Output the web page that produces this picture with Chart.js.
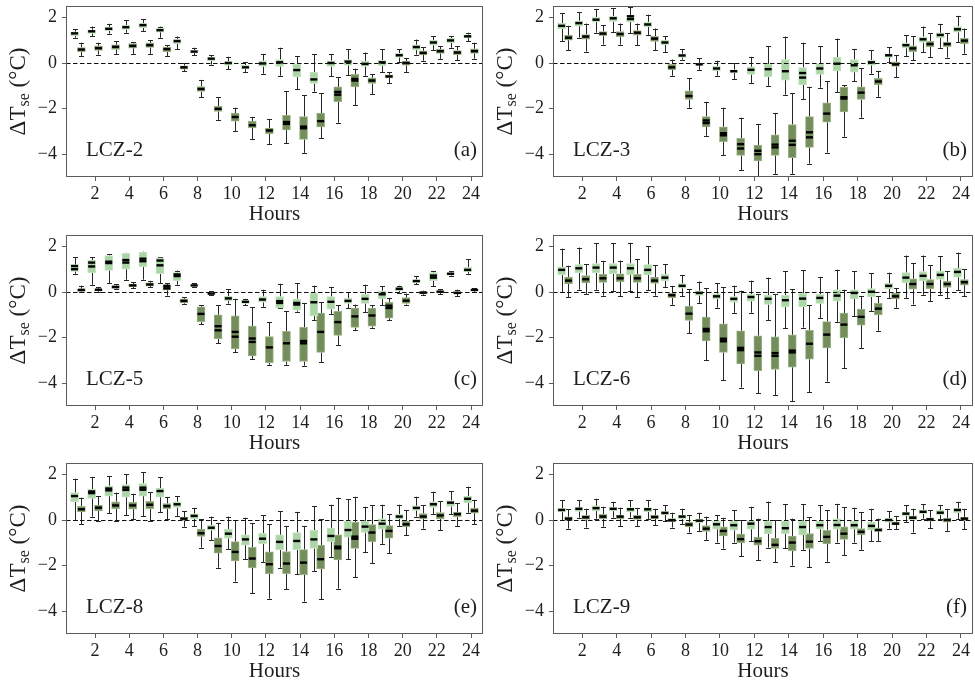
<!DOCTYPE html>
<html>
<head>
<meta charset="utf-8">
<title>Hourly ΔTse by LCZ</title>
<script src="https://cdn.jsdelivr.net/npm/chart.js@4.4.1/dist/chart.umd.min.js"></script>
<style>
  html, body { margin: 0; padding: 0; background: #ffffff; width: 975px; height: 683px; overflow: hidden; }
  .panel { position: absolute; }
  canvas { display: block; }
</style>
</head>
<body>
<div class="panel" style="left:0px;top:0px;"><canvas id="p0" width="490" height="228"></canvas></div>
<div class="panel" style="left:490px;top:0px;"><canvas id="p1" width="485" height="228"></canvas></div>
<div class="panel" style="left:0px;top:229px;"><canvas id="p2" width="490" height="228"></canvas></div>
<div class="panel" style="left:490px;top:229px;"><canvas id="p3" width="485" height="228"></canvas></div>
<div class="panel" style="left:0px;top:457px;"><canvas id="p4" width="490" height="228"></canvas></div>
<div class="panel" style="left:490px;top:457px;"><canvas id="p5" width="485" height="228"></canvas></div>
<script>
// Hours of the day and axis ticks
const hours = [1, 2, 3, 4, 5, 6, 7, 8, 9, 10, 11, 12, 13, 14, 15, 16, 17, 18, 19, 20, 21, 22, 23, 24];
const xTickValues = [2, 4, 6, 8, 10, 12, 14, 16, 18, 20, 22, 24];
const yTickValues = [-4, -2, 0, 2];

// One row per hour: [lower whisker, Q1, median, Q3, upper whisker, (mean)]
const lcz2Light = [
  [1.11, 1.2, 1.3, 1.37, 1.48], [1.17, 1.3, 1.39, 1.45, 1.6], [1.29, 1.42, 1.5, 1.57, 1.72],
  [1.33, 1.47, 1.57, 1.66, 1.87], [1.39, 1.55, 1.66, 1.75, 1.93], [1.11, 1.35, 1.44, 1.52, 1.6],
  [0.6, 0.85, 0.96, 1.05, 1.16], [0.33, 0.44, 0.5, 0.57, 0.67], [-0.07, 0.1, 0.19, 0.25, 0.34],
  [-0.27, -0.1, 0.0, 0.07, 0.27], [-0.4, -0.26, -0.19, -0.1, 0.03], [-0.47, -0.15, -0.02, 0.1, 0.4],
  [-0.56, -0.15, 0.03, 0.15, 0.67], [-1.15, -0.6, -0.31, -0.05, 0.3], [-1.26, -0.9, -0.72, -0.4, 0.4],
  [-0.59, -0.15, 0.0, 0.1, 0.4], [-0.53, -0.1, 0.06, 0.15, 0.6], [-0.56, -0.15, -0.04, 0.08, 0.46],
  [-0.4, -0.12, 0.03, 0.12, 0.6], [0.04, 0.25, 0.34, 0.42, 0.6], [0.37, 0.57, 0.7, 0.8, 1.03],
  [0.55, 0.78, 0.9, 1.0, 1.18], [0.67, 0.88, 0.99, 1.08, 1.18], [0.96, 1.1, 1.17, 1.24, 1.33]
];
const lcz2Dark = [
  [0.3, 0.5, 0.59, 0.68, 0.89], [0.37, 0.55, 0.65, 0.75, 0.89], [0.4, 0.6, 0.71, 0.8, 0.95],
  [0.4, 0.65, 0.75, 0.85, 0.92], [0.4, 0.68, 0.78, 0.88, 1.0], [0.3, 0.5, 0.61, 0.7, 0.77],
  [-0.37, -0.27, -0.19, -0.12, 0.0], [-1.51, -1.25, -1.14, -1.03, -0.74], [-2.49, -2.12, -2.01, -1.9, -1.51],
  [-3.0, -2.55, -2.37, -2.2, -1.96], [-3.33, -2.85, -2.73, -2.55, -2.37], [-3.56, -3.1, -2.96, -2.85, -2.47],
  [-3.53, -2.93, -2.67, -2.3, -1.23, -2.59], [-3.94, -3.35, -2.86, -2.35, -1.41, -2.79], [-3.29, -2.8, -2.55, -2.2, -1.33],
  [-2.62, -1.7, -1.39, -1.05, -0.62, -1.27], [-1.84, -1.05, -0.77, -0.5, -0.25, -0.7], [-1.38, -0.9, -0.77, -0.65, -0.5],
  [-0.89, -0.65, -0.59, -0.52, -0.41], [-0.41, -0.1, 0.0, 0.08, 0.22], [0.1, 0.35, 0.44, 0.53, 0.7],
  [0.18, 0.42, 0.52, 0.6, 0.73], [0.12, 0.36, 0.46, 0.55, 0.74], [0.19, 0.42, 0.52, 0.62, 0.89]
];
const lcz3Light = [
  [0.96, 1.5, 1.63, 1.75, 2.18], [1.11, 1.62, 1.75, 1.85, 2.22], [1.33, 1.8, 1.9, 2.0, 2.37],
  [1.36, 1.82, 1.96, 2.05, 2.41], [1.3, 1.8, 1.93, 2.1, 2.44, 2.05], [1.21, 1.58, 1.69, 1.8, 2.12],
  [0.47, 0.8, 0.9, 1.0, 1.18], [0.15, 0.25, 0.33, 0.4, 0.6], [-0.3, -0.1, -0.06, 0.0, 0.21],
  [-0.56, -0.35, -0.24, -0.15, 0.1], [-0.7, -0.42, -0.36, -0.3, 0.0], [-0.89, -0.5, -0.3, -0.17, 0.27],
  [-1.0, -0.6, -0.27, -0.05, 0.74], [-1.39, -0.75, -0.36, 0.15, 1.16], [-1.6, -0.95, -0.64, -0.2, 0.89, -0.44],
  [-1.08, -0.5, -0.24, 0.0, 0.74], [-1.27, -0.35, -0.03, 0.25, 1.07], [-0.79, -0.4, -0.1, 0.15, 0.62],
  [-0.47, -0.1, 0.03, 0.12, 0.55], [0.04, 0.25, 0.34, 0.4, 0.7], [0.3, 0.65, 0.78, 0.88, 1.21],
  [0.47, 0.9, 1.04, 1.15, 1.6], [0.67, 1.1, 1.23, 1.32, 1.72], [0.92, 1.35, 1.48, 1.6, 2.07]
];
const lcz3Dark = [
  [0.55, 1.0, 1.11, 1.22, 1.63], [0.5, 1.05, 1.16, 1.25, 1.73], [0.81, 1.2, 1.29, 1.38, 1.67],
  [0.81, 1.15, 1.27, 1.38, 1.73], [0.79, 1.22, 1.33, 1.42, 1.73], [0.56, 0.95, 1.07, 1.17, 1.51],
  [-0.56, -0.3, -0.19, -0.06, 0.15], [-1.96, -1.6, -1.45, -1.22, -0.67], [-3.19, -2.8, -2.63, -2.35, -1.7, -2.52],
  [-4.04, -3.45, -3.17, -2.8, -1.96, -3.08], [-4.71, -4.05, -3.75, -3.3, -2.4, -3.56], [-5.1, -4.3, -4.0, -3.6, -2.67, -3.85],
  [-4.86, -4.05, -3.7, -3.15, -2.19, -3.58], [-4.86, -4.15, -3.59, -2.7, -1.33, -3.41], [-4.41, -3.7, -3.26, -2.35, -1.04, -3.04],
  [-3.93, -2.6, -2.22, -1.75, -0.81], [-3.23, -2.15, -1.56, -1.07, -0.98, -1.5], [-2.4, -1.6, -1.3, -1.05, -0.22],
  [-1.48, -0.95, -0.81, -0.67, -0.34], [-0.62, -0.15, -0.06, 0.05, 0.33], [0.12, 0.5, 0.64, 0.75, 1.18],
  [0.25, 0.7, 0.83, 0.95, 1.3], [0.24, 0.72, 0.83, 0.92, 1.3], [0.41, 0.85, 0.98, 1.08, 1.51]
];
const lcz5Light = [
  [0.8, 0.9, 1.0, 1.2, 1.52, 1.14], [0.32, 0.85, 1.12, 1.4, 1.52, 1.29], [0.39, 0.95, 1.27, 1.6, 1.65, 1.33],
  [0.54, 1.0, 1.29, 1.7, 1.72, 1.4], [0.54, 1.1, 1.35, 1.75, 1.77, 1.46], [0.39, 0.8, 1.17, 1.5, 1.52, 1.38],
  [0.32, 0.5, 0.7, 0.85, 0.94, 0.77], [0.22, 0.24, 0.29, 0.33, 0.39], [-0.14, -0.12, -0.07, -0.03, 0.03],
  [-0.51, -0.38, -0.28, -0.18, 0.13], [-0.59, -0.5, -0.43, -0.36, -0.3], [-0.65, -0.45, -0.33, -0.2, 0.1],
  [-0.72, -0.7, -0.48, -0.2, 0.36, -0.4], [-0.86, -0.8, -0.55, -0.3, 0.39, -0.48], [-1.23, -1.05, -0.45, -0.05, 0.28],
  [-0.96, -0.75, -0.43, -0.2, 0.22], [-0.7, -0.5, -0.39, -0.28, 0.0], [-0.88, -0.5, -0.3, -0.1, 0.32],
  [-0.59, -0.3, -0.1, 0.05, 0.25], [-0.04, 0.05, 0.14, 0.2, 0.28], [0.35, 0.4, 0.48, 0.55, 0.68],
  [0.25, 0.5, 0.63, 0.85, 0.93, 0.72], [0.71, 0.74, 0.8, 0.85, 0.9], [0.8, 0.88, 0.97, 1.08, 1.43]
];
const lcz5Dark = [
  [-0.01, 0.03, 0.09, 0.14, 0.28], [0.01, 0.05, 0.1, 0.14, 0.2], [0.13, 0.16, 0.22, 0.28, 0.35],
  [0.17, 0.22, 0.29, 0.35, 0.42], [0.22, 0.26, 0.33, 0.4, 0.49], [-0.16, 0.08, 0.16, 0.3, 0.39, 0.27],
  [-0.51, -0.48, -0.39, -0.3, -0.22], [-1.42, -1.3, -0.96, -0.65, -0.58], [-2.25, -2.05, -1.68, -1.0, -0.59, -1.5],
  [-2.65, -2.5, -1.96, -1.05, -0.3, -1.75], [-2.94, -2.8, -2.19, -1.5, -0.67, -2.04], [-3.19, -3.1, -2.43, -1.95, -1.32],
  [-3.19, -3.05, -2.25, -1.72, -0.84], [-3.23, -3.05, -2.25, -1.55, -0.48, -2.15], [-3.09, -2.65, -1.75, -0.92, -0.45],
  [-2.32, -1.9, -1.32, -0.85, -0.59], [-1.67, -1.55, -1.07, -0.7, -0.55], [-1.57, -1.5, -1.03, -0.7, -0.59],
  [-1.23, -1.15, -0.7, -0.45, -0.26, -0.6], [-0.55, -0.5, -0.38, -0.25, -0.07], [-0.12, -0.08, -0.03, 0.02, 0.06],
  [-0.09, -0.04, 0.01, 0.06, 0.13], [-0.19, -0.08, -0.04, 0.02, 0.1], [0.01, 0.05, 0.09, 0.12, 0.16]
];
const lcz6Light = [
  [0.0, 0.75, 0.97, 1.1, 1.9], [0.1, 0.85, 1.04, 1.2, 1.95], [0.1, 0.85, 1.07, 1.25, 2.13],
  [0.03, 0.8, 1.07, 1.25, 2.13], [0.03, 0.75, 1.04, 1.25, 2.16], [0.07, 0.75, 0.97, 1.2, 2.01],
  [0.22, 0.5, 0.63, 0.78, 1.22], [-0.19, 0.17, 0.27, 0.37, 0.75], [-0.48, -0.15, -0.04, 0.05, 0.46],
  [-0.69, -0.3, -0.19, -0.08, 0.39], [-0.91, -0.45, -0.3, -0.2, 0.28], [-0.91, -0.4, -0.22, -0.1, 0.5],
  [-1.24, -0.55, -0.3, -0.15, 0.63], [-1.6, -0.65, -0.36, -0.15, 0.92], [-1.56, -0.65, -0.29, -0.05, 0.95],
  [-1.15, -0.5, -0.26, -0.1, 0.65], [-1.31, -0.4, -0.16, 0.1, 0.98], [-1.05, -0.3, -0.04, 0.1, 0.91],
  [-0.84, -0.2, 0.01, 0.15, 0.82], [-0.26, 0.15, 0.27, 0.38, 0.85], [-0.26, 0.4, 0.63, 0.85, 1.6],
  [-0.12, 0.5, 0.71, 0.9, 1.6], [-0.12, 0.55, 0.75, 0.92, 1.58], [0.07, 0.65, 0.88, 1.05, 1.73]
];
const lcz6Dark = [
  [-0.22, 0.35, 0.5, 0.65, 1.15], [-0.09, 0.4, 0.56, 0.72, 1.21], [-0.16, 0.42, 0.6, 0.77, 1.34],
  [-0.19, 0.45, 0.6, 0.8, 1.38], [-0.22, 0.42, 0.6, 0.78, 1.44], [-0.16, 0.38, 0.5, 0.65, 1.18],
  [-0.56, -0.25, -0.14, -0.05, 0.27], [-1.8, -1.25, -0.95, -0.63, 0.13], [-3.0, -2.15, -1.72, -1.1, 0.17, -1.62],
  [-3.86, -2.65, -2.16, -1.4, 0.2, -2.05], [-4.19, -3.15, -2.55, -1.7, 0.06, -2.45], [-4.43, -3.45, -2.8, -1.92, -0.09, -2.65],
  [-4.53, -3.4, -2.8, -1.97, -0.09, -2.68], [-4.79, -3.3, -2.65, -1.88, 0.13, -2.57], [-4.39, -2.95, -2.27, -1.68, -0.59],
  [-3.93, -2.45, -1.87, -1.3, -0.01], [-3.33, -2.0, -1.43, -0.92, 0.1], [-2.45, -1.45, -1.09, -0.75, -0.19],
  [-1.7, -1.0, -0.73, -0.5, -0.19], [-0.69, -0.3, -0.19, -0.05, 0.17], [-0.55, 0.12, 0.35, 0.58, 1.28],
  [-0.4, 0.15, 0.35, 0.55, 1.17], [-0.26, 0.2, 0.35, 0.48, 0.91], [-0.19, 0.3, 0.43, 0.55, 1.0]
];
const lcz8Light = [
  [0.0, 0.8, 1.05, 1.2, 1.81], [0.15, 0.95, 1.18, 1.35, 1.88, 1.25], [0.29, 1.05, 1.3, 1.5, 1.93, 1.38],
  [0.2, 1.0, 1.32, 1.55, 2.0, 1.42], [0.18, 1.05, 1.33, 1.6, 2.09, 1.42], [0.35, 1.0, 1.27, 1.4, 1.88],
  [0.18, 0.55, 0.69, 0.8, 1.05], [-0.26, 0.05, 0.18, 0.27, 0.53], [-0.89, -0.45, -0.34, -0.22, 0.15],
  [-1.28, -0.8, -0.6, -0.4, 0.15], [-1.72, -1.1, -0.85, -0.65, 0.1], [-1.84, -1.05, -0.82, -0.58, 0.2],
  [-2.09, -1.3, -0.96, -0.65, 0.39], [-2.38, -1.3, -0.92, -0.55, 0.36], [-2.23, -1.25, -0.85, -0.45, 0.61],
  [-1.62, -0.95, -0.7, -0.35, 0.67], [-1.72, -0.75, -0.44, -0.05, 0.9], [-1.4, -0.55, -0.29, -0.05, 0.58],
  [-1.04, -0.4, -0.16, 0.05, 0.67], [-0.26, 0.05, 0.15, 0.25, 0.67], [0.15, 0.42, 0.53, 0.62, 1.02],
  [0.25, 0.55, 0.69, 0.8, 1.24], [0.25, 0.6, 0.76, 0.85, 1.26], [0.32, 0.75, 0.93, 1.05, 1.46]
];
const lcz8Dark = [
  [-0.19, 0.35, 0.47, 0.6, 0.98], [-0.04, 0.4, 0.54, 0.65, 1.05], [-0.04, 0.5, 0.64, 0.8, 1.2],
  [0.03, 0.48, 0.64, 0.78, 1.15], [-0.04, 0.5, 0.67, 0.82, 1.23], [0.03, 0.5, 0.61, 0.72, 1.01],
  [-0.29, -0.02, 0.06, 0.12, 0.39], [-1.21, -0.72, -0.58, -0.4, 0.03], [-2.09, -1.45, -1.14, -0.78, -0.12],
  [-2.7, -1.8, -1.4, -0.95, 0.0], [-3.21, -2.1, -1.69, -1.2, -0.15], [-3.45, -2.35, -1.94, -1.4, -0.19],
  [-3.04, -2.35, -1.91, -1.38, -0.26], [-3.58, -2.4, -1.87, -1.3, -0.26], [-3.47, -2.15, -1.72, -1.1, 0.03],
  [-3.01, -1.75, -1.24, -0.65, 0.98, -1.17], [-2.5, -1.25, -0.82, -0.1, 1.02, -0.73], [-1.9, -0.95, -0.55, -0.2, 0.64],
  [-1.46, -0.8, -0.48, -0.25, 0.25], [-0.67, -0.3, -0.19, -0.05, 0.42], [-0.38, 0.05, 0.15, 0.28, 0.64],
  [-0.45, 0.05, 0.2, 0.33, 0.83], [-0.26, 0.15, 0.26, 0.35, 0.73], [-0.19, 0.3, 0.41, 0.52, 0.88]
];
const lcz9Light = [
  [0.0, 0.35, 0.44, 0.52, 0.86], [0.1, 0.38, 0.49, 0.57, 0.86], [0.06, 0.4, 0.52, 0.62, 0.93],
  [0.1, 0.4, 0.49, 0.57, 0.8], [0.1, 0.35, 0.47, 0.55, 0.86], [0.03, 0.35, 0.47, 0.55, 0.87],
  [-0.04, 0.22, 0.31, 0.38, 0.65], [-0.19, 0.05, 0.15, 0.22, 0.49], [-0.48, -0.12, -0.03, 0.05, 0.32],
  [-0.99, -0.4, -0.19, -0.05, 0.22], [-0.99, -0.45, -0.23, -0.05, 0.44], [-0.92, -0.4, -0.16, 0.0, 0.58],
  [-1.21, -0.6, -0.31, -0.05, 0.81], [-1.24, -0.6, -0.36, -0.05, 0.68], [-1.31, -0.65, -0.31, -0.05, 0.68],
  [-0.92, -0.4, -0.23, -0.05, 0.64], [-0.99, -0.4, -0.22, 0.05, 0.71], [-0.99, -0.4, -0.23, -0.05, 0.54],
  [-0.92, -0.45, -0.26, -0.1, 0.49], [-0.38, -0.1, 0.0, 0.08, 0.39], [-0.09, 0.18, 0.28, 0.35, 0.64],
  [0.06, 0.28, 0.36, 0.45, 0.68], [0.03, 0.22, 0.32, 0.42, 0.65], [0.03, 0.32, 0.44, 0.52, 0.8]
];
const lcz9Dark = [
  [-0.38, -0.03, 0.06, 0.14, 0.47], [-0.33, 0.02, 0.12, 0.2, 0.49], [-0.29, 0.05, 0.15, 0.25, 0.58],
  [-0.26, 0.05, 0.15, 0.22, 0.54], [-0.26, 0.02, 0.12, 0.2, 0.51], [-0.23, 0.05, 0.13, 0.22, 0.49],
  [-0.33, -0.08, -0.01, 0.06, 0.32], [-0.55, -0.3, -0.2, -0.1, 0.2], [-0.87, -0.5, -0.38, -0.25, 0.15],
  [-1.25, -0.7, -0.48, -0.3, 0.1], [-1.6, -1.0, -0.84, -0.62, 0.0], [-1.75, -1.1, -0.93, -0.75, 0.06],
  [-1.86, -1.25, -1.09, -0.8, 0.0], [-2.0, -1.35, -0.99, -0.7, 0.06], [-2.08, -1.25, -0.95, -0.6, 0.13],
  [-1.83, -1.05, -0.74, -0.45, 0.42], [-1.54, -0.85, -0.6, -0.3, 0.57], [-1.31, -0.65, -0.52, -0.38, 0.35],
  [-0.92, -0.5, -0.44, -0.35, 0.06], [-0.41, -0.22, -0.16, -0.08, 0.17], [-0.55, 0.0, 0.1, 0.18, 0.49],
  [-0.35, -0.05, 0.03, 0.1, 0.44], [-0.48, -0.1, 0.0, 0.08, 0.47], [-0.41, -0.03, 0.06, 0.12, 0.49]
];

const panelNames = ['LCZ-2', 'LCZ-3', 'LCZ-5', 'LCZ-6', 'LCZ-8', 'LCZ-9'];
const panelLetters = ['(a)', '(b)', '(c)', '(d)', '(e)', '(f)'];
const lightSeries = [lcz2Light, lcz3Light, lcz5Light, lcz6Light, lcz8Light, lcz9Light];
const darkSeries = [lcz2Dark, lcz3Dark, lcz5Dark, lcz6Dark, lcz8Dark, lcz9Dark];

const SERIF = '"Liberation Serif", "DejaVu Serif", serif';
const INK = '#1e1e1e';
const LIGHT_FILL = '#abd5a6';
const LIGHT_EDGE = '#c2e3bd';
const DARK_FILL = '#748d5c';
const DARK_EDGE = '#9ab384';

function minusLabel(v) {
  return v < 0 ? '\u2212' + Math.abs(v) : String(v);
}

// Whiskers behind the boxes, medians / reference line / frame / labels on top
const boxPlotExtras = {
  id: 'boxPlotExtras',
  beforeDatasetsDraw(chart) {
    const { ctx, chartArea: a, scales: { x, y } } = chart;
    ctx.save();
    ctx.beginPath();
    ctx.rect(a.left, a.top, a.right - a.left, a.bottom - a.top);
    ctx.clip();
    ctx.strokeStyle = '#262626';
    ctx.lineWidth = 1;
    chart.data.datasets.forEach((ds) => {
      ds.stats.forEach((s, i) => {
        const cx = Math.round(x.getPixelForValue(ds.data[i].x)) + 0.5;
        const lo = y.getPixelForValue(s[0]);
        const q1 = y.getPixelForValue(s[1]);
        const q3 = y.getPixelForValue(s[3]);
        const hi = y.getPixelForValue(s[4]);
        const half = 2.5;
        ctx.beginPath();
        ctx.moveTo(cx, q1); ctx.lineTo(cx, lo);
        ctx.moveTo(cx, q3); ctx.lineTo(cx, hi);
        ctx.moveTo(cx - half, Math.round(lo) + 0.5); ctx.lineTo(cx + half, Math.round(lo) + 0.5);
        ctx.moveTo(cx - half, Math.round(hi) + 0.5); ctx.lineTo(cx + half, Math.round(hi) + 0.5);
        ctx.stroke();
      });
    });
    ctx.restore();
  },
  afterDatasetsDraw(chart, args, opts) {
    const { ctx, chartArea: a, scales: { x, y } } = chart;
    ctx.save();
    ctx.beginPath();
    ctx.rect(a.left, a.top, a.right - a.left, a.bottom - a.top);
    ctx.clip();
    // medians (and means where they separate from the median)
    ctx.strokeStyle = '#000000';
    ctx.lineWidth = 2.4;
    chart.data.datasets.forEach((ds, di) => {
      const meta = chart.getDatasetMeta(di);
      ds.stats.forEach((s, i) => {
        const el = meta.data[i];
        const w = el.width / 2 - 0.5;
        const marks = s.length > 5 ? [s[2], s[5]] : [s[2]];
        marks.forEach((v) => {
          const py = y.getPixelForValue(v);
          ctx.beginPath();
          ctx.moveTo(el.x - w, py);
          ctx.lineTo(el.x + w, py);
          ctx.stroke();
        });
      });
    });
    // zero reference line
    const y0 = Math.round(y.getPixelForValue(0)) + 0.5;
    ctx.strokeStyle = '#111111';
    ctx.lineWidth = 1.2;
    ctx.setLineDash([4.5, 2.5]);
    ctx.beginPath();
    ctx.moveTo(a.left, y0);
    ctx.lineTo(a.right, y0);
    ctx.stroke();
    ctx.setLineDash([]);
    ctx.restore();

    // frame
    ctx.save();
    ctx.strokeStyle = '#5c5c5c';
    ctx.lineWidth = 1;
    ctx.strokeRect(Math.round(a.left) + 0.5, Math.round(a.top) + 0.5,
      Math.round(a.right - a.left) - 1, Math.round(a.bottom - a.top) - 1);

    // panel labels
    ctx.fillStyle = INK;
    ctx.font = '21px ' + SERIF;
    ctx.textBaseline = 'middle';
    ctx.textAlign = 'left';
    ctx.fillText(opts.name, a.left + 20, a.bottom - 27);
    ctx.textAlign = 'right';
    ctx.fillText(opts.letter, a.right - 6, a.bottom - 27);
    ctx.restore();
  },
  afterDraw(chart, args, opts) {
    // y-axis title with subscript
    const { ctx, chartArea: a } = chart;
    const big = '23px ' + SERIF;
    const small = '16px ' + SERIF;
    ctx.save();
    ctx.font = big;
    const w1 = ctx.measureText('\u0394T').width;
    const w3 = ctx.measureText(' (\u00B0C)').width;
    ctx.font = small;
    const w2 = ctx.measureText('se').width;
    const total = w1 + w2 + w3;
    ctx.translate(opts.titleX, (a.top + a.bottom) / 2);
    ctx.rotate(-Math.PI / 2);
    ctx.fillStyle = INK;
    ctx.textBaseline = 'alphabetic';
    ctx.textAlign = 'left';
    let px = -total / 2;
    const base = 8;
    ctx.font = big;
    ctx.fillText('\u0394T', px, base);
    px += w1;
    ctx.font = small;
    ctx.fillText('se', px, base + 4);
    px += w2;
    ctx.font = big;
    ctx.fillText(' (\u00B0C)', px, base);
    ctx.restore();
  }
};

panelNames.forEach((name, i) => {
  const col = i % 2;
  const boxData = (rows, shift) => hours.map((h, k) => ({ x: h + shift, y: [rows[k][1], rows[k][3]] }));
  new Chart(document.getElementById('p' + i), {
    type: 'bar',
    data: {
      datasets: [
        {
          data: boxData(lightSeries[i], -0.2),
          stats: lightSeries[i],
          backgroundColor: LIGHT_FILL,
          borderColor: LIGHT_EDGE,
          borderWidth: 1,
          borderSkipped: false,
          barThickness: 8,
          grouped: false
        },
        {
          data: boxData(darkSeries[i], 0.2),
          stats: darkSeries[i],
          backgroundColor: DARK_FILL,
          borderColor: DARK_EDGE,
          borderWidth: 1,
          borderSkipped: false,
          barThickness: 8,
          grouped: false
        }
      ]
    },
    options: {
      responsive: false,
      animation: false,
      events: [],
      layout: { padding: { top: 6, right: col === 0 ? 7 : 2, left: 0, bottom: 0 } },
      plugins: {
        legend: { display: false },
        tooltip: { enabled: false },
        boxPlotExtras: { name: name, letter: panelLetters[i], titleX: col === 0 ? 17 : 14 }
      },
      scales: {
        x: {
          type: 'linear',
          min: 0.3,
          max: 24.7,
          offset: false,
          afterBuildTicks: (s) => { s.ticks = xTickValues.map((v) => ({ value: v })); },
          afterFit: (s) => { s.height = 51; s.paddingLeft = 0; s.paddingRight = 0; },
          grid: { display: true, drawOnChartArea: false, drawTicks: true, tickLength: 4, color: '#5c5c5c', offset: false },
          border: { display: false },
          ticks: { color: INK, font: { family: SERIF, size: 18 }, padding: 2, maxRotation: 0, autoSkip: false },
          title: { display: true, text: 'Hours', color: INK, font: { family: SERIF, size: 21 }, padding: { top: 0, bottom: 1 } }
        },
        y: {
          type: 'linear',
          min: -5,
          max: 2.5,
          afterBuildTicks: (s) => { s.ticks = yTickValues.map((v) => ({ value: v })); },
          afterFit: (s) => { s.width = col === 0 ? 66 : 63; s.paddingTop = 0; s.paddingBottom = 0; },
          grid: { display: true, drawOnChartArea: false, drawTicks: true, tickLength: 4, color: '#5c5c5c' },
          border: { display: false },
          ticks: { color: INK, font: { family: SERIF, size: 18 }, padding: 5, callback: (v) => minusLabel(v) }
        }
      }
    },
    plugins: [boxPlotExtras]
  });
});
</script>
</body>
</html>
